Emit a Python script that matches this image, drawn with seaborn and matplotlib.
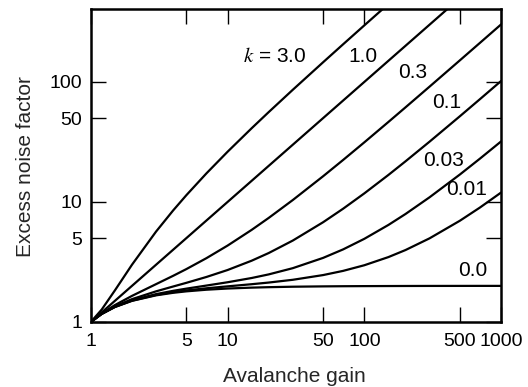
import numpy as np
import pandas as pd
import matplotlib
matplotlib.use("Agg")
import matplotlib.pyplot as plt
from matplotlib.ticker import FixedLocator, FixedFormatter, NullLocator
import seaborn as sns

# Avalanche gain M (shared sampling for every curve)
gain = [1, 1.2, 1.5, 2, 3, 4, 5, 7, 10, 15, 20, 30, 50, 70, 100, 150, 200,
        300, 500, 700, 1000]

# Excess noise factor F(M) for each ionization ratio k
f_k3p0 = [1.0, 1.267, 1.833, 3.0, 5.667, 8.5, 11.4, 17.29, 26.2, 41.13, 56.1,
          86.07, 146.0, 206.0, 296.0, 446.0, 596.0, 896.0, 1496.0, 2096.0, 2996.0]
f_k1p0 = [1.0, 1.2, 1.5, 2.0, 3.0, 4.0, 5.0, 7.0, 10.0, 15.0, 20.0, 30.0, 50.0,
          70.0, 100.0, 150.0, 200.0, 300.0, 500.0, 700.0, 1000.0]
f_k0p3 = [1.0, 1.177, 1.383, 1.65, 2.067, 2.425, 2.76, 3.4, 4.33, 5.853, 7.365,
          10.38, 16.39, 22.39, 31.39, 46.40, 61.40, 91.40, 151.4, 211.4, 301.4]
f_k0p1 = [1.0, 1.17, 1.35, 1.55, 1.8, 1.975, 2.12, 2.371, 2.71, 3.24, 3.755,
          4.77, 6.782, 8.787, 11.79, 16.79, 21.80, 31.80, 51.80, 71.80, 101.8]
f_k0p03 = [1.0, 1.168, 1.338, 1.515, 1.707, 1.818, 1.896, 2.011, 2.143, 2.325,
           2.492, 2.808, 3.421, 4.026, 4.93, 6.434, 7.935, 10.94, 16.94, 22.94,
           31.94]
f_k0p01 = [1.0, 1.167, 1.335, 1.505, 1.68, 1.773, 1.832, 1.909, 1.981, 2.064,
           2.131, 2.247, 2.46, 2.666, 2.97, 3.473, 3.975, 4.977, 6.978, 8.979,
           11.98]
f_k0p0 = [1.0, 1.167, 1.333, 1.5, 1.667, 1.75, 1.8, 1.857, 1.9, 1.933, 1.95,
          1.967, 1.98, 1.986, 1.99, 1.993, 1.995, 1.997, 1.998, 1.999, 1.999]

k_labels = ["3.0", "1.0", "0.3", "0.1", "0.03", "0.01", "0.0"]
series = [f_k3p0, f_k1p0, f_k0p3, f_k0p1, f_k0p03, f_k0p01, f_k0p0]

x_ticks = [1, 5, 10, 50, 100, 500, 1000]
y_ticks = [1, 5, 10, 50, 100]

df = pd.concat(
    [pd.DataFrame({"gain": gain, "F": vals, "k": lab})
     for lab, vals in zip(k_labels, series)],
    ignore_index=True,
)

sns.set_style("ticks")
plt.rcParams["font.family"] = ["Liberation Sans", "DejaVu Sans"]
plt.rcParams["mathtext.fontset"] = "stix"

FS = 15
TICK_FS = 14

fig = plt.figure(figsize=(5.28, 3.87), dpi=100)
ax = fig.add_axes([0.172, 0.168, 0.777, 0.809])

sns.lineplot(data=df, x="gain", y="F", hue="k", hue_order=k_labels,
             palette=["black"] * len(k_labels), linewidth=1.6,
             legend=False, ax=ax, sort=False)

ax.set_xscale("log")
ax.set_yscale("log")
ax.set_xlim(1, 1000)
ax.set_ylim(1, 406)

ax.xaxis.set_major_locator(FixedLocator(x_ticks))
ax.xaxis.set_major_formatter(FixedFormatter([str(t) for t in x_ticks]))
ax.yaxis.set_major_locator(FixedLocator(y_ticks))
ax.yaxis.set_major_formatter(FixedFormatter([str(t) for t in y_ticks]))
ax.xaxis.set_minor_locator(NullLocator())
ax.yaxis.set_minor_locator(NullLocator())

ax.tick_params(which="major", direction="in", length=11, width=1.0,
               top=True, right=True, labelsize=TICK_FS, colors="black")
ax.tick_params(axis="x", pad=8)
ax.tick_params(axis="y", pad=6)
for sp in ax.spines.values():
    sp.set_visible(True)
    sp.set_linewidth(1.8)
    sp.set_color("black")

ax.set_xlabel("Avalanche gain", fontsize=FS)
ax.set_ylabel("Excess noise factor", fontsize=FS)
ax.xaxis.label.set_va("center")
ax.yaxis.label.set_va("center")
ax.xaxis.set_label_coords(0.495, -0.175)
ax.yaxis.set_label_coords(-0.16, 0.495)

# Curve labels
label_pos = [
    ("$k$ = 3.0", 12.9, 164),
    ("1.0", 76, 164),
    ("0.3", 178, 121),
    ("0.1", 311, 67),
    ("0.03", 267, 22),
    ("0.01", 394, 12.6),
    ("0.0", 483, 2.71),
]
for txt, x, y in label_pos:
    ax.text(x, y, txt, fontsize=FS, ha="left", va="center", color="black")

fig.savefig("out.png", dpi=100, facecolor="white")
